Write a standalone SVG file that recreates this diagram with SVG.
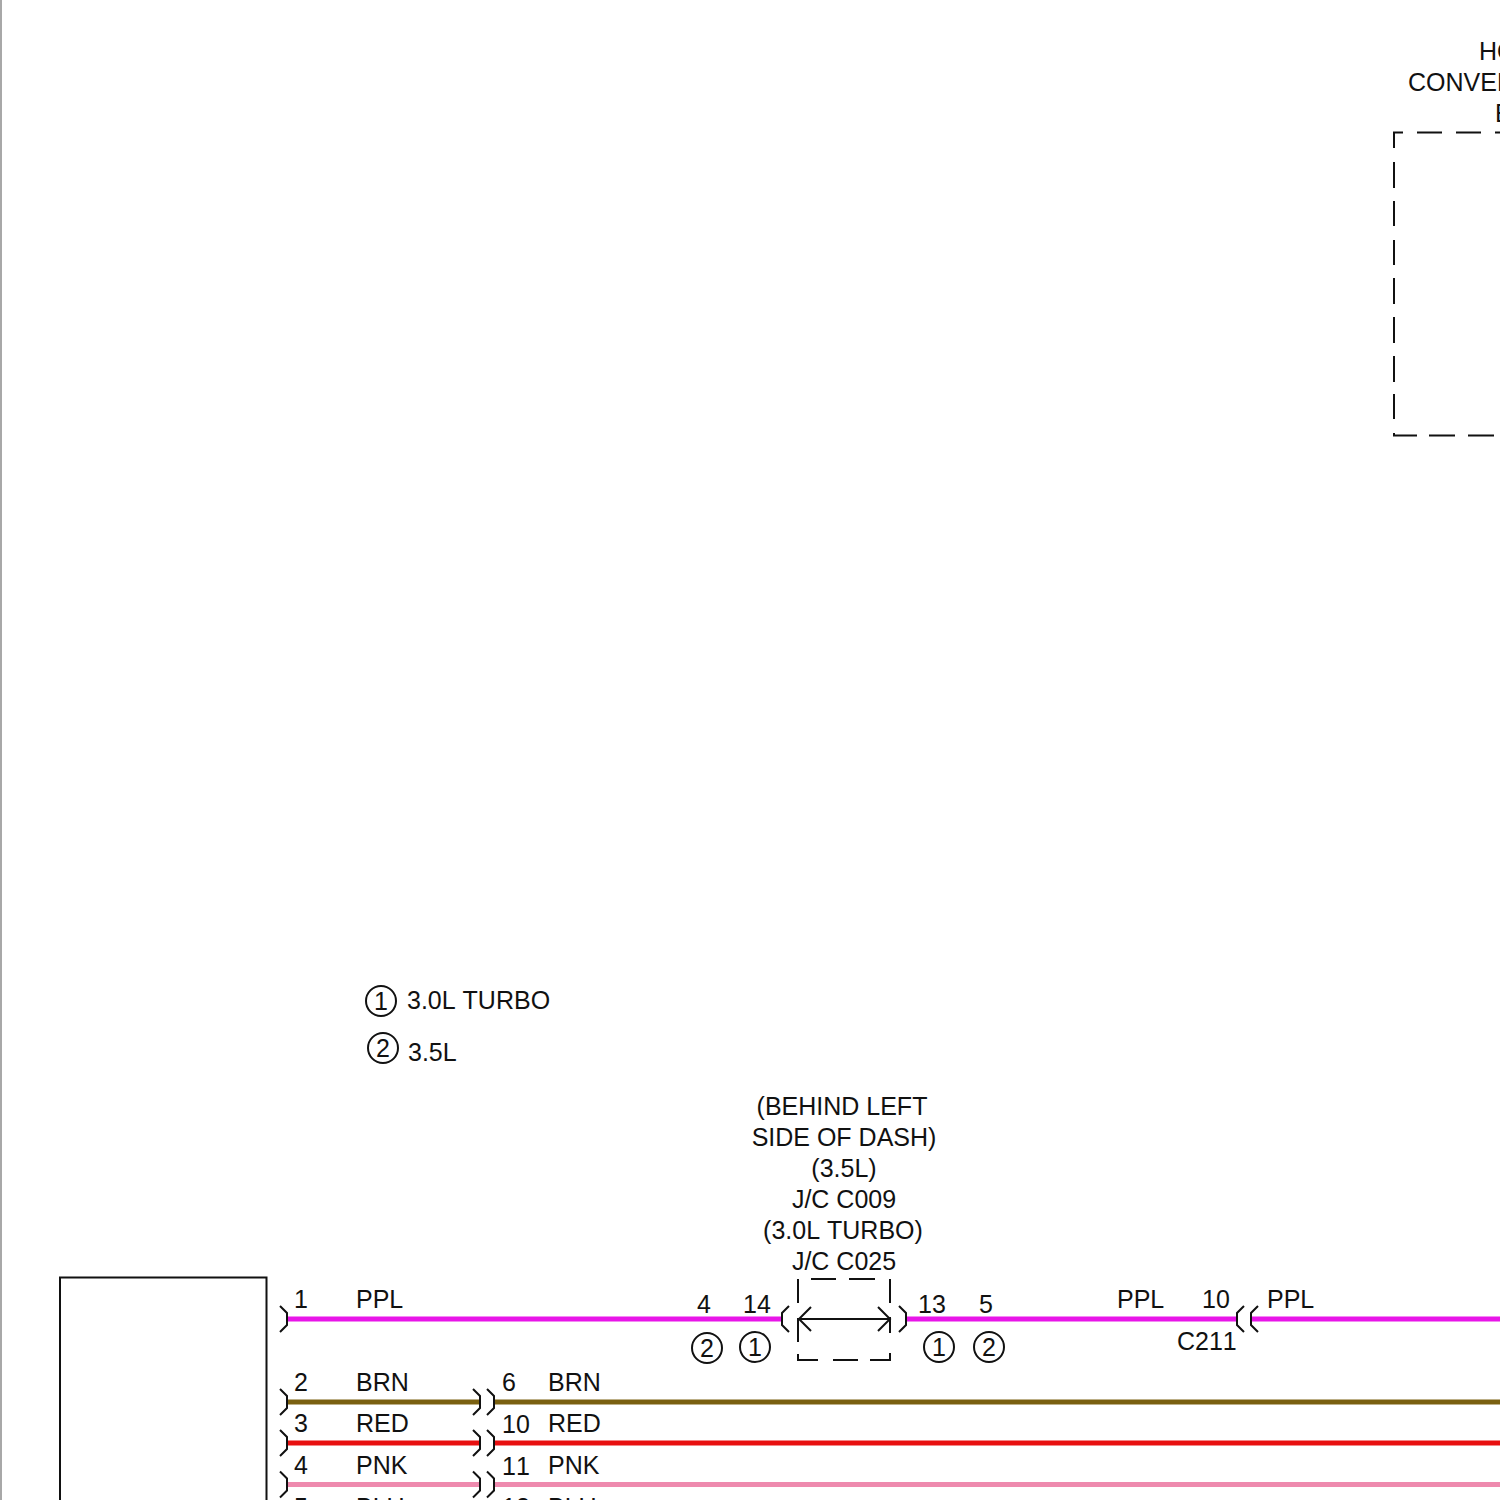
<svg xmlns="http://www.w3.org/2000/svg" width="1500" height="1500" viewBox="0 0 1500 1500">
<style>
text{font-family:"Liberation Sans",Arial,sans-serif;font-size:25px;fill:#111;font-kerning:none}
.m{text-anchor:middle}
.k{fill:none;stroke:#111;stroke-width:2}
.w{fill:none;stroke-width:5}
.c{fill:none;stroke:#111;stroke-width:2}
</style>
<defs>
<path id="r" class="c" d="M-7-13L0-6V6L-7 13"/>
<path id="l" class="c" d="M7-13L0-6V6L7 13"/>
</defs>
<rect width="1500" height="1500" fill="#fff"/>
<path d="M1 0V1500" stroke="#a8a8a8" stroke-width="2" fill="none"/>
<g id="connectors">
<path class="w" stroke="#e815e8" d="M287 1319H782M906 1319H1237M1251 1319H1500"/>
<path class="w" stroke="#7a6010" d="M287 1402H480M494 1402H1500"/>
<path class="w" stroke="#e81010" d="M287 1443H480M494 1443H1500"/>
<path class="w" stroke="#ee8aae" d="M287 1484.500H480M494 1484.500H1500"/>
</g>
<g id="module-left"><path class="k" d="M60 1500V1277.500H266.500V1500"/>
<use href="#r" x="287" y="1319"/><use href="#r" x="287" y="1402"/><use href="#r" x="287" y="1443"/><use href="#r" x="287" y="1484.500"/>
<text x="294" y="1308">1</text><text x="356" y="1308">PPL</text>
<text x="294" y="1391">2</text><text x="356" y="1391">BRN</text>
<text x="294" y="1432">3</text><text x="356" y="1432">RED</text>
<text x="294" y="1474">4</text><text x="356" y="1474">PNK</text>
<text x="294" y="1516">5</text><text x="356" y="1516">BLU</text>
</g>
<g id="connector-inline">
<use href="#r" x="480" y="1402"/><use href="#r" x="494" y="1402"/>
<use href="#r" x="480" y="1443"/><use href="#r" x="494" y="1443"/>
<use href="#r" x="480" y="1484.500"/><use href="#r" x="494" y="1484.500"/>
<use href="#r" x="480" y="1526"/><use href="#r" x="494" y="1526"/>
<text x="502" y="1391">6</text><text x="548" y="1391">BRN</text>
<text x="502" y="1433">10</text><text x="548" y="1432">RED</text>
<text x="502" y="1475">11</text><text x="548" y="1474">PNK</text>
<text x="502" y="1516">12</text><text x="548" y="1516">BLU</text>
</g>
<g id="junction">
<text class="m" x="842" y="1115">(BEHIND LEFT</text>
<text class="m" x="844" y="1146">SIDE OF DASH)</text>
<text class="m" x="844" y="1177">(3.5L)</text>
<text class="m" x="844" y="1208">J/C C009</text>
<text class="m" x="843" y="1239">(3.0L TURBO)</text>
<text class="m" x="844" y="1270">J/C C025</text>
<text class="m" x="704" y="1313">4</text><text class="m" x="757" y="1313">14</text>
<text class="m" x="932" y="1313">13</text><text class="m" x="986" y="1313">5</text>
<use href="#l" x="782" y="1319"/><use href="#r" x="906" y="1319"/>
<path class="k" d="M798 1303V1279M811 1279H836M849 1279H875M890 1279V1303M798 1318V1342M798 1354V1360H818M833 1360H858M870 1360H890V1353M890 1317V1333M799 1319H890M811 1307L799 1319L811 1331M878 1307L890 1319L878 1331"/>
<circle class="k" cx="707" cy="1348" r="15"/><text class="m" x="707" y="1357">2</text>
<circle class="k" cx="755" cy="1347" r="15"/><text class="m" x="755" y="1356">1</text>
<circle class="k" cx="939" cy="1347" r="15"/><text class="m" x="939" y="1356">1</text>
<circle class="k" cx="989" cy="1347" r="15"/><text class="m" x="989" y="1356">2</text>
</g>
<g id="c211">
<text x="1117" y="1308">PPL</text><text x="1202" y="1308">10</text><text x="1267" y="1308">PPL</text>
<text x="1177" y="1350">C211</text>
<use href="#l" x="1237" y="1319"/><use href="#l" x="1251" y="1319"/>
</g>
<g id="legend">
<circle class="k" cx="381" cy="1001" r="15"/><text class="m" x="381" y="1010">1</text>
<text x="407" y="1009">3.0L TURBO</text>
<circle class="k" cx="383" cy="1048" r="15"/><text class="m" x="383" y="1057">2</text>
<text x="408" y="1061">3.5L</text>
</g>
<g id="module-right">
<text x="1479" y="60">HO</text><text x="1408" y="91">CONVER</text><text x="1495" y="122">E</text>
<path class="k" d="M1394 148V132.500H1403M1417 132.500H1442M1456 132.500H1481M1495 132.500H1500M1394 162V188M1394 201V226M1394 240V265M1394 278V304M1394 317V343M1394 356V382M1394 394V419M1394 433V435.500H1417M1429 435.500H1455M1468 435.500H1494"/>
</g>
</svg>
